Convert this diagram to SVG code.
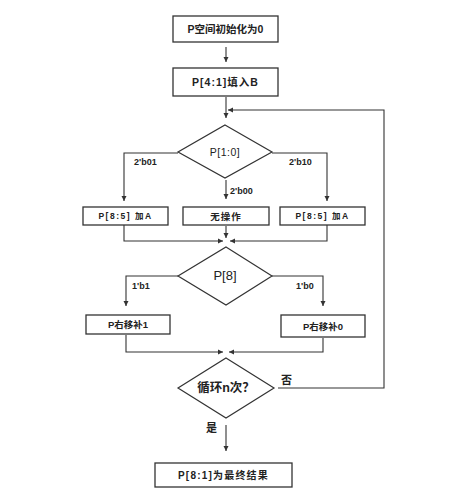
<svg xmlns="http://www.w3.org/2000/svg" width="450" height="496" viewBox="0 0 450 496">
<style>
.box{fill:#fff;stroke:#333;stroke-width:1.3}
.dia{fill:#fff;stroke:#333;stroke-width:1.2}
.ln{fill:none;stroke:#333;stroke-width:1.1}
.t{font-family:"Liberation Sans","Noto Sans CJK SC",sans-serif;font-size:9.5px;fill:#222;text-anchor:middle;dominant-baseline:central;font-weight:bold}
.lb{font-family:"Liberation Sans","Noto Sans CJK SC",sans-serif;font-size:9px;fill:#222;dominant-baseline:central;font-weight:bold}
</style>
<defs>
<marker id="ah" markerWidth="6" markerHeight="6" refX="5" refY="3" orient="auto" markerUnits="userSpaceOnUse">
<path d="M0,0.5 L5,3 L0,5.5 Z" fill="#333"/>
</marker>
</defs>
<rect width="450" height="496" fill="#fff"/>
<g id="connectors">
<line class="ln" x1="226" y1="47" x2="226" y2="62" marker-end="url(#ah)"/>
<line class="ln" x1="226" y1="97" x2="226" y2="118" marker-end="url(#ah)"/>
<polyline class="ln" points="278,388 384,388 384,110 228,110" marker-end="url(#ah)"/>
<polyline class="ln" points="178,153 124,153 124,201" marker-end="url(#ah)"/>
<polyline class="ln" points="272,153 327,153 327,201" marker-end="url(#ah)"/>
<line class="ln" x1="226" y1="180" x2="226" y2="199" marker-end="url(#ah)"/>
<polyline class="ln" points="124,225 124,241 223,241" marker-end="url(#ah)"/>
<polyline class="ln" points="327,225 327,241 230,241" marker-end="url(#ah)"/>
<line class="ln" x1="226" y1="226" x2="226" y2="238" marker-end="url(#ah)"/>
<polyline class="ln" points="178,276 126,276 126,306" marker-end="url(#ah)"/>
<polyline class="ln" points="272,276 323,276 323,306" marker-end="url(#ah)"/>
<polyline class="ln" points="126,335 126,352 223,352" marker-end="url(#ah)"/>
<polyline class="ln" points="323,338 323,352 229,352" marker-end="url(#ah)"/>
<line class="ln" x1="226" y1="425" x2="226" y2="451" marker-end="url(#ah)"/>
<text class="lb" x="134" y="162">2'b01</text>
<text class="lb" x="289" y="162">2'b10</text>
<text class="lb" x="230" y="191">2'b00</text>
<text class="lb" x="132" y="286">1'b1</text>
<text class="lb" x="296" y="286">1'b0</text>
<text class="lb" x="281" y="380" style="font-size:11px">否</text>
<text class="lb" x="206" y="428" style="font-size:11px">是</text>
</g>
<g id="n1"><rect class="box" x="173" y="16" width="105" height="26"/><text class="t" x="225.5" y="29" style="font-size:10.5px">P空间初始化为0</text></g>
<g id="n2"><rect class="box" x="173" y="68" width="105" height="28"/><text class="t" x="225.5" y="82" style="font-size:10.5px;letter-spacing:1px">P[4:1]填入B</text></g>
<g id="d1"><polygon class="dia" points="225,125 272,152 225,178 178,152"/><text class="t" x="225" y="152" style="font-size:10.5px;letter-spacing:0.5px;font-weight:normal">P[1:0]</text></g>
<g id="n3"><rect class="box" x="83" y="207" width="85" height="18"/><text class="t" x="125.5" y="216" style="font-size:8.5px;letter-spacing:1.5px">P[8:5] 加A</text></g>
<g id="n4"><rect class="box" x="183" y="207" width="86" height="18"/><text class="t" x="226" y="216" style="font-size:9.5px;letter-spacing:1px">无操作</text></g>
<g id="n5"><rect class="box" x="280" y="207" width="85" height="18"/><text class="t" x="322.5" y="216" style="font-size:8.5px;letter-spacing:1.5px">P[8:5] 加A</text></g>
<g id="d2"><polygon class="dia" points="226,247 272,276 226,305 178,276"/><text class="t" x="225" y="275" style="font-size:13px;font-weight:normal">P[8]</text></g>
<g id="n6"><rect class="box" x="86" y="315" width="84" height="19"/><text class="t" x="128" y="324.5" style="font-size:9.5px">P右移补1</text></g>
<g id="n7"><rect class="box" x="281" y="315" width="84" height="22"/><text class="t" x="323" y="326" style="font-size:9.5px">P右移补0</text></g>
<g id="d3"><polygon class="dia" points="226,358 274,388 226,418 178,388"/><text class="t" x="226" y="388" style="font-size:12.5px">循环n次？</text></g>
<g id="n8"><rect class="box" x="155" y="463" width="137" height="24"/><text class="t" x="223.5" y="475" style="font-size:10px;letter-spacing:1.2px">P[8:1]为最终结果</text></g>
</svg>
